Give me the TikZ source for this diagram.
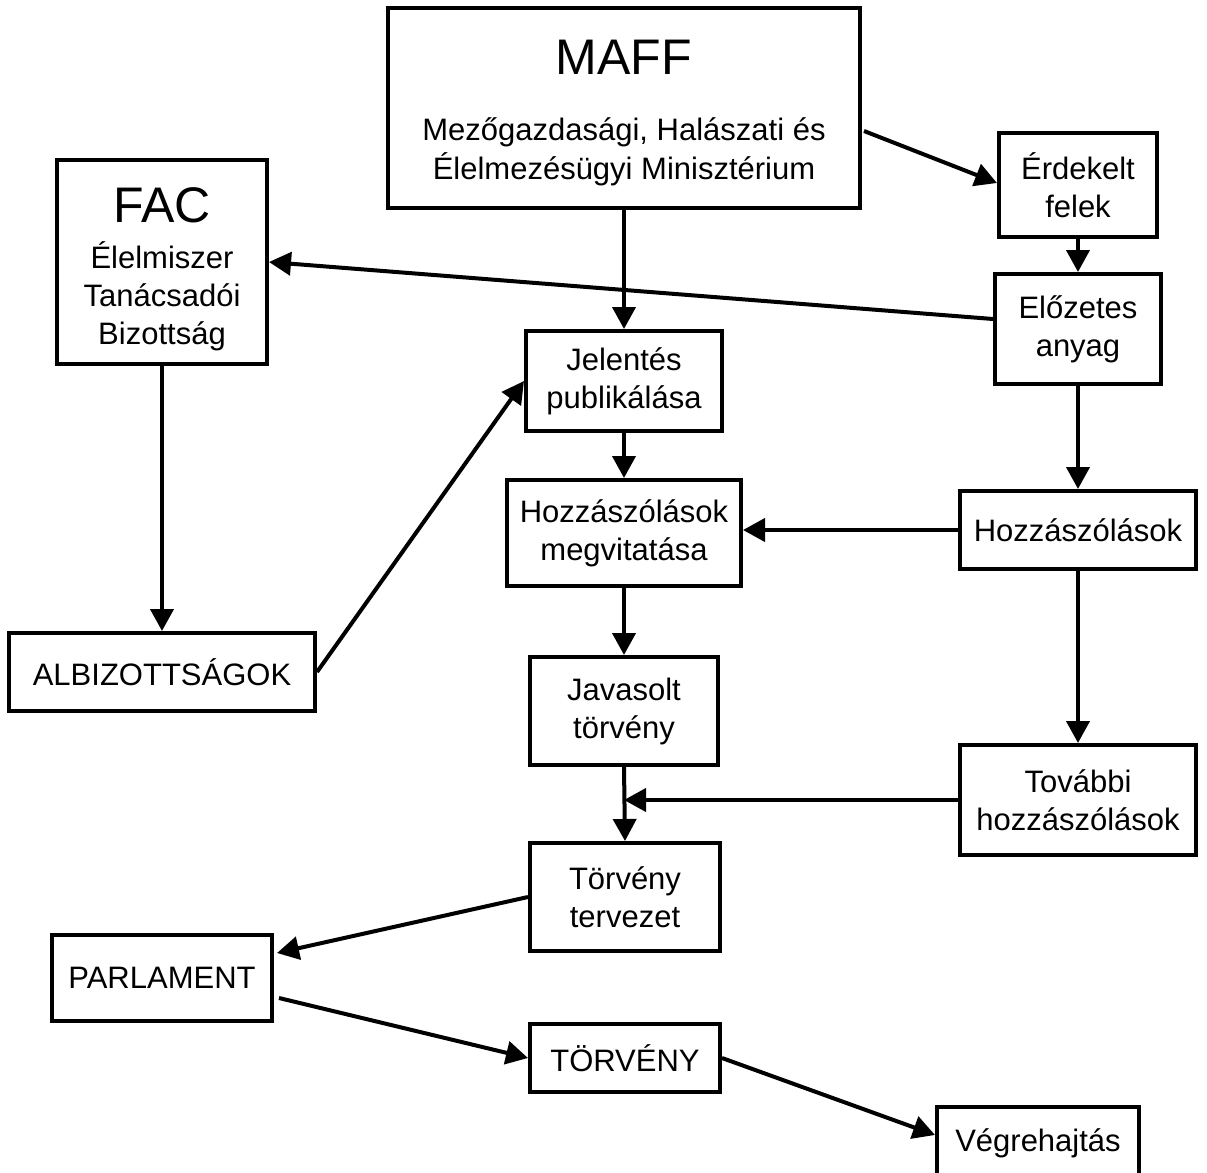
\documentclass[tikz,border=0pt]{standalone}
\usepackage{fontspec}
\setmainfont{Liberation Sans}
\usetikzlibrary{positioning, arrows.meta, calc}
\tikzset{
	box/.style={draw, line width=2pt, align=center, inner sep=0pt, font=\fontsize{15.5pt}{19pt}\selectfont}, % every box of the chart
	arrow/.style={line width=2pt, -{Triangle[length=11pt,width=11.5pt]}}, % thick arrows with filled heads
}

\begin{document}
\begin{tikzpicture}[x=0.5pt, y=-0.5pt]
	\useasboundingbox (0,0) rectangle (1207,1173);
	\node[box, minimum width=236pt, minimum height=100pt] (maff) at (624,108) {{\fontsize{25pt}{28pt}\selectfont\rule{0pt}{22pt}MAFF}\\[14pt]Mezőgazdasági, Halászati és\\[0.5pt]Élelmezésügyi Minisztérium};
	\node[box, minimum width=105pt, minimum height=102pt] (fac) at (162,262) {{\fontsize{25pt}{28pt}\selectfont\rule{0pt}{25pt}FAC}\\[4pt]Élelmiszer\\Tanácsadói\\Bizottság};
	\node[box, minimum width=79pt, minimum height=52pt] (erdekelt) at (1078,185) {Érdekelt\\felek};
	\node[box, minimum width=83pt, minimum height=55pt] (elozetes) at (1078,329) {Előzetes\\anyag};
	\node[box, minimum width=98pt, minimum height=50pt] (jelentes) at (624,381) {Jelentés\\publikálása};
	\node[box, minimum width=117pt, minimum height=53pt] (megvitatas) at (624,533) {Hozzászólások\\megvitatása};
	\node[box, minimum width=118pt, minimum height=39pt] (hozza) at (1078,530) {Hozzászólások};
	\node[box, minimum width=153pt, minimum height=39pt] (albiz) at (162,672) {ALBIZOTTSÁGOK};
	\node[box, minimum width=94pt, minimum height=54pt] (javasolt) at (624,711) {Javasolt\\törvény};
	\node[box, minimum width=118pt, minimum height=55pt] (tovabbi) at (1078,800) {További\\hozzászólások};
	\node[box, minimum width=95pt, minimum height=54pt] (tervezet) at (625,897) {Törvény\\tervezet};
	\node[box, minimum width=110pt, minimum height=43pt] (parlament) at (162,978) {PARLAMENT};
	\node[box, minimum width=95pt, minimum height=34pt] (torveny) at (625,1058) {TÖRVÉNY};
	\node[box, minimum width=101pt, minimum height=36pt] (vegre) at (1038,1143) {Végrehajtás};
	\path[arrow]	($(maff.east)+(2,23)$) edge ($(erdekelt.west)+(0,-2)$)
			(maff.south) edge (jelentes.north)
			(erdekelt.south) edge (elozetes.north)
			($(elozetes.west)+(0,-10)$) edge (fac.east)
			(elozetes.south) edge (hozza.north)
			(fac.south) edge (albiz.north)
			(albiz.east) edge (jelentes.west)
			(jelentes.south) edge (megvitatas.north)
			(hozza.west) edge (hozza.west -| megvitatas.east)
			(hozza.south) edge (tovabbi.north)
			(megvitatas.south) edge (javasolt.north)
			(javasolt.south) edge (tervezet.north)
			(tovabbi.west) edge (tovabbi.west -| javasolt.south)
			(tervezet.west) edge ($(parlament.east)+(3,-25)$)
			($(parlament.east)+(5,20)$) edge (torveny.west)
			(torveny.east) edge ($(vegre.west)+(0,-8)$);
\end{tikzpicture}
\end{document}
